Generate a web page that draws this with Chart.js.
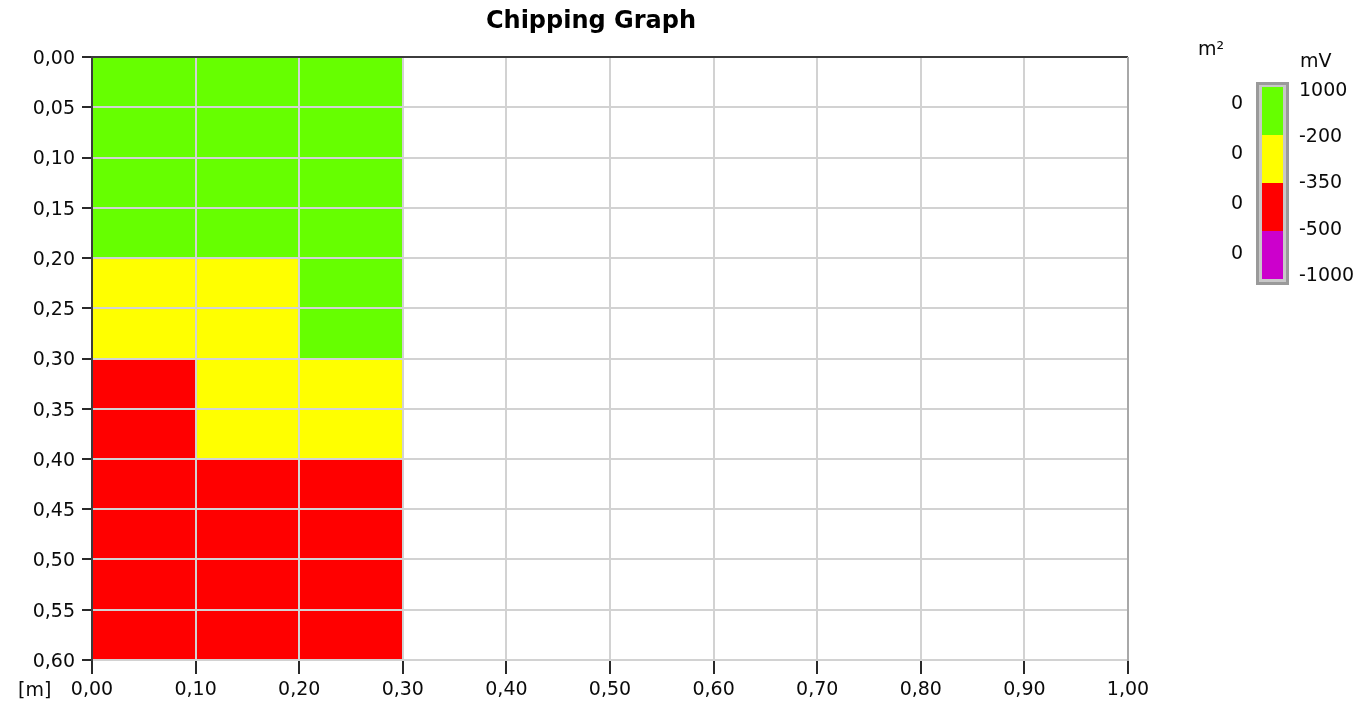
<!DOCTYPE html>
<html>
<head>
<meta charset="utf-8">
<title>Chipping Graph</title>
<script src="https://cdn.jsdelivr.net/npm/chart.js@4.4.1/dist/chart.umd.min.js"></script>
<style>
  html, body { margin: 0; padding: 0; background: #ffffff; }
  #wrap { position: relative; width: 1361px; height: 707px; }
</style>
</head>
<body>
<div id="wrap"><canvas id="chart" width="1361" height="707"></canvas></div>
<script>
// Grid of measured cells: column starts along the length [m], row starts along the depth [m]
const cellSize = 0.1;
const colStarts = [0.0, 0.1, 0.2];
const rowStarts = [0.0, 0.1, 0.2, 0.3, 0.4, 0.5];

// Potential class of each cell, one row per depth band (0 = >-200, 1 = -200..-350, 2 = -350..-500, 3 = <-500 mV)
const row0 = [0, 0, 0];
const row1 = [0, 0, 0];
const row2 = [1, 1, 0];
const row3 = [2, 1, 1];
const row4 = [2, 2, 2];
const row5 = [2, 2, 2];
const cellClass = [row0, row1, row2, row3, row4, row5];

// Colour scale (mV) and the area of each class (m²)
const bandLimits = ['1000', '-200', '-350', '-500', '-1000'];
const bandNames = ['>-200 mV', '-200..-350 mV', '-350..-500 mV', '<-500 mV'];
const bandColors = ['#66ff00', '#ffff00', '#ff0000', '#cc00cc'];
const bandAreas = ['0', '0', '0', '0'];

// Axis ranges and tick steps
const xMin = 0, xMax = 1.0, xStep = 0.1;
const yMin = 0, yMax = 0.6, yStep = 0.05;

const FONT = "'DejaVu Sans', sans-serif";
const TEXT = '#0a0a0a';
const fmt = v => Number(v).toFixed(2).replace('.', ',');

// One floating-bar dataset per colour class; each cell spans one row of depth
const datasets = bandColors.map((color, k) => {
  const data = [];
  cellClass.forEach((row, r) => {
    row.forEach((cls, c) => {
      if (cls === k) {
        data.push({ x: colStarts[c] + cellSize / 2, y: [rowStarts[r], rowStarts[r] + cellSize] });
      }
    });
  });
  return {
    label: bandNames[k],
    data,
    backgroundColor: color,
    borderWidth: 0,
    barPercentage: 1.0,
    categoryPercentage: 1.0,
    grouped: false
  };
});

// Frame, title, axis unit and colour-scale legend
const decorations = {
  id: 'decorations',
  afterDraw(chart) {
    const ctx = chart.ctx;
    const a = chart.chartArea;
    ctx.save();
    // frame: dark top, grey right
    ctx.lineWidth = 2;
    ctx.strokeStyle = '#3c3c3c';
    ctx.beginPath();
    ctx.moveTo(a.left - 1, a.top);
    ctx.lineTo(a.right, a.top);
    ctx.stroke();
    ctx.strokeStyle = '#a8a8a8';
    ctx.beginPath();
    ctx.moveTo(a.right, a.top);
    ctx.lineTo(a.right, a.bottom + 1);
    ctx.stroke();

    // title
    ctx.fillStyle = '#000000';
    ctx.font = "bold 24px 'DejaVu Sans', sans-serif";
    ctx.textAlign = 'center';
    ctx.textBaseline = 'middle';
    ctx.fillText('Chipping Graph', 591, 22);

    // x-axis unit
    ctx.font = '19px ' + FONT;
    ctx.fillStyle = TEXT;
    ctx.textAlign = 'left';
    ctx.fillText('[m]', 18, 691);

    // colour scale
    const bx = 1256, by = 82, bw = 33, bh = 203;
    ctx.fillStyle = '#9a9a9a';
    ctx.fillRect(bx, by, bw, bh);
    ctx.fillStyle = '#c8c8c8';
    ctx.fillRect(bx + 3, by + 3, bw - 6, bh - 6);
    const ix = 1262, iy = 87, iw = 21, ih = 192;
    const step = ih / bandColors.length;
    bandColors.forEach((c, i) => {
      ctx.fillStyle = c;
      ctx.fillRect(ix, iy + i * step, iw, step);
    });

    ctx.fillStyle = TEXT;
    ctx.font = '19px ' + FONT;
    ctx.textAlign = 'left';
    ctx.textBaseline = 'middle';
    ctx.fillText('m²', 1198, 50);
    ctx.fillText('mV', 1300, 62);
    bandLimits.forEach((t, i) => {
      ctx.fillText(t, 1299, 91 + i * 46.25);
    });
    ctx.textAlign = 'center';
    bandAreas.forEach((t, i) => {
      ctx.fillText(t, 1237, 104 + i * 50);
    });
    ctx.restore();
  }
};

new Chart(document.getElementById('chart'), {
  type: 'bar',
  data: { datasets },
  options: {
    responsive: false,
    animation: false,
    events: [],
    layout: { padding: { left: 0, top: 57, right: 233, bottom: 0 } },
    plugins: {
      legend: { display: false },
      title: { display: false },
      tooltip: { enabled: false }
    },
    scales: {
      x: {
        type: 'linear',
        min: xMin,
        max: xMax,
        offset: false,
        afterFit: s => { s.height = 47; },
        ticks: {
          stepSize: xStep,
          color: TEXT,
          font: { family: FONT, size: 19 },
          padding: 5,
          maxRotation: 0,
          autoSkip: false,
          callback: v => fmt(v)
        },
        grid: {
          z: 1,
          offset: false,
          color: '#d2d2d2',
          lineWidth: 2,
          tickColor: '#2a2a2a',
          tickWidth: 2,
          tickLength: 14
        },
        border: { display: true, z: 1, color: '#a8a8a8', width: 2 }
      },
      y: {
        type: 'linear',
        reverse: true,
        min: yMin,
        max: yMax,
        afterFit: s => { s.width = 92; },
        ticks: {
          stepSize: yStep,
          color: TEXT,
          font: { family: FONT, size: 19 },
          padding: 7,
          labelOffset: 2,
          autoSkip: false,
          callback: v => fmt(v)
        },
        grid: {
          z: 1,
          color: '#d2d2d2',
          lineWidth: 2,
          tickColor: '#2a2a2a',
          tickWidth: 2,
          tickLength: 10
        },
        border: { display: true, z: 1, color: '#3c3c3c', width: 2 }
      }
    }
  },
  plugins: [decorations]
});
</script>
</body>
</html>
